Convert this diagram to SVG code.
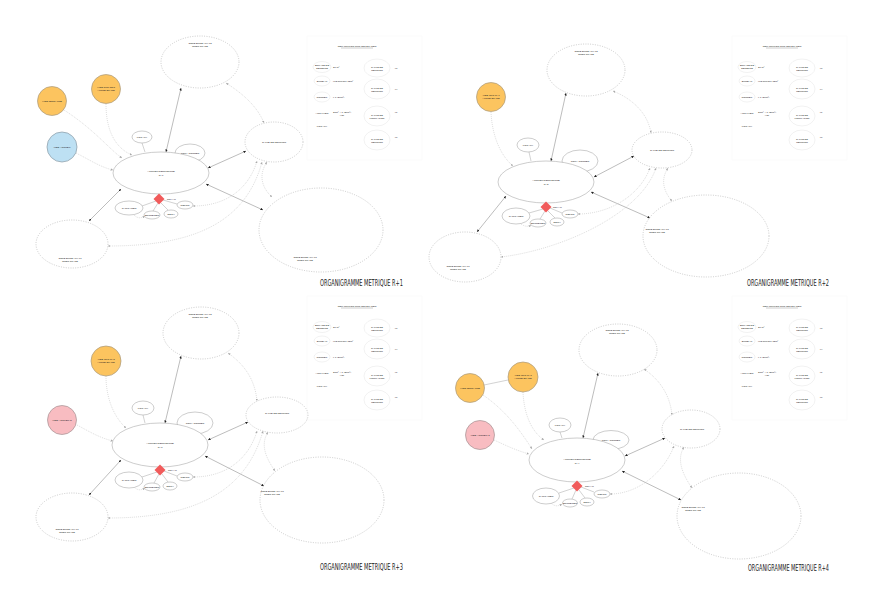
<svg xmlns="http://www.w3.org/2000/svg" xmlns:xlink="http://www.w3.org/1999/xlink" width="871" height="616" viewBox="0 0 871 616">
<style>
.t{font-family:"Liberation Sans",Arial,sans-serif;fill:#222;text-anchor:middle;font-size:2.5px}
.ts{font-family:"Liberation Sans",Arial,sans-serif;fill:#222;text-anchor:start;font-size:2.5px}
.tt{font-family:"DejaVu Sans Condensed","Liberation Sans",sans-serif;fill:#222;font-size:8px}
.n{fill:#fff;stroke:#9a9a9a;stroke-width:0.5}
.nf{fill:none;stroke:#e4e4e4;stroke-width:0.5}
.d{fill:none;stroke:#c4c4c4;stroke-width:0.9;stroke-dasharray:1 1.4}
.or{fill:#fcc45f;stroke:#a89a80;stroke-width:0.7}
.bl{fill:#bde0f3;stroke:#8a9aa4;stroke-width:0.7}
.pk{fill:#f8bcc1;stroke:#a49294;stroke-width:0.7}
.dm{fill:#f15b5b}
.a{fill:none;stroke:#7a7a7a;stroke-width:0.5;marker-start:url(#ah);marker-end:url(#ah)}
.l{fill:none;stroke:#9a9a9a;stroke-width:0.45}
.c{fill:none;stroke:#c6c6c6;stroke-width:0.6;stroke-dasharray:1 1;marker-end:url(#al)}
.c2{fill:none;stroke:#c6c6c6;stroke-width:0.6;stroke-dasharray:1 1;marker-start:url(#al);marker-end:url(#al)}
</style>
<defs>
<marker id="ah" viewBox="0 0 4 4" refX="4" refY="2" markerWidth="2.6" markerHeight="2.6" markerUnits="userSpaceOnUse" orient="auto-start-reverse"><path d="M0,0 L4,2 L0,4 z" fill="#222"/></marker>
<marker id="al" viewBox="0 0 4 4" refX="4" refY="2" markerWidth="2.4" markerHeight="2.4" markerUnits="userSpaceOnUse" orient="auto-start-reverse"><path d="M0,0 L4,2 L0,4 z" fill="#aaa"/></marker>
<g id="tab">
<rect x="307" y="36" width="115" height="124" fill="none" stroke="#f7f7f7" stroke-width="0.5"/>
<text x="357" y="47" class="t">REPARTITION SUR LES ETAGES</text>
<line x1="341" y1="48" x2="373" y2="48" stroke="#555" stroke-width="0.3"/>
<ellipse cx="322" cy="67" rx="9" ry="5.5" class="nf"/>
<text x="322" y="66" class="t">ESPACE DE</text><text x="322" y="69" class="t">DETENTE</text>
<text x="333" y="67.5" class="ts">20 m²</text>
<ellipse cx="322" cy="81" rx="8" ry="5" class="nf"/>
<text x="322" y="82" class="t">BUREAU</text>
<text x="333" y="82" class="ts">x12 bureaux 12m²</text>
<ellipse cx="322" cy="97" rx="8" ry="5" class="nf"/>
<text x="322" y="98" class="t">CONSEIL</text>
<text x="333" y="98" class="ts">x 1 (20m²)</text>
<text x="322" y="114" class="t">ARCHIVES</text>
<text x="333" y="113" class="ts">20m² + 1 (20m²)</text><text x="342" y="116" class="t">(x2)</text>
<text x="322" y="127" class="t">LOCAUX</text>
<ellipse cx="377" cy="68" rx="13" ry="9" class="nf"/>
<text x="377" y="67.5" class="t">SALLE DE</text><text x="377" y="70.5" class="t">REUNION</text>
<ellipse cx="377" cy="89" rx="13" ry="10" class="nf"/>
<text x="377" y="88.5" class="t">SALLE DE</text><text x="377" y="91.5" class="t">REUNION</text>
<ellipse cx="377" cy="116" rx="13" ry="10" class="nf"/>
<text x="377" y="115.5" class="t">SALLE DE</text><text x="377" y="118.5" class="t">FORMATION</text>
<ellipse cx="377" cy="140" rx="13" ry="10" class="nf"/>
<text x="377" y="139.5" class="t">SALLE DE</text><text x="377" y="142.5" class="t">REUNION</text>
<text x="396" y="69" class="t">x7</text>
<text x="396" y="90" class="t">x4</text>
<text x="396" y="113" class="t">x1</text>
<text x="396" y="138" class="t">x6</text>
</g>
</defs>
<rect width="871" height="616" fill="#fff"/>

<!-- tables -->
<use xlink:href="#tab" href="#tab"/>
<use xlink:href="#tab" href="#tab" transform="translate(425,0)"/>
<use xlink:href="#tab" href="#tab" transform="translate(0,260)"/>
<use xlink:href="#tab" href="#tab" transform="translate(425,260)"/>

<!-- titles -->
<text x="320" y="286" class="tt" textLength="83" lengthAdjust="spacingAndGlyphs">ORGANIGRAMME METRIQUE R+1</text>
<text x="747" y="286" class="tt" textLength="82" lengthAdjust="spacingAndGlyphs">ORGANIGRAMME METRIQUE R+2</text>
<text x="320" y="570" class="tt" textLength="83" lengthAdjust="spacingAndGlyphs">ORGANIGRAMME METRIQUE R+3</text>
<text x="748" y="571" class="tt" textLength="81" lengthAdjust="spacingAndGlyphs">ORGANIGRAMME METRIQUE R+4</text>

<!-- connectors -->
<g id="connectors">
<!-- R+1 -->
<path class="a" d="M166,152 L181,88"/>
<path class="a" d="M208,168 L246,151"/>
<path class="a" d="M206,184 L263,210"/>
<path class="a" d="M121,189 L89,221"/>
<path class="l" d="M142,143 L145,152"/>
<path class="l" d="M156,201 L142,206"/>
<path class="l" d="M158,203 L153,211"/>
<path class="l" d="M161,203 L168,210"/>
<path class="l" d="M163,200 L177,204"/>
<path class="c" d="M64,110 C95,130 110,150 122,158"/>
<path class="c" d="M106,104 C106,130 115,148 132,155"/>
<path class="c" d="M76,153 C90,160 100,167 113,170"/>
<path class="c2" d="M226,83 C245,95 258,108 264,123"/>
<path class="c2" d="M193,206 C230,206 250,185 257,161"/>
<path class="c2" d="M108,246 C190,246 245,225 262,162"/>
<path class="c2" d="M267,162 C258,175 262,188 272,197"/>
<path class="c" d="M134,215 Q139,220 145,216"/>
<!-- R+2 -->
<path class="a" d="M551,161 L566,93"/>
<path class="a" d="M594,177 L634,156"/>
<path class="a" d="M591,192 L650,218"/>
<path class="a" d="M506,196 L477,232"/>
<path class="l" d="M529,152 L531,161"/>
<path class="l" d="M543,209 L529,213"/>
<path class="l" d="M545,211 L540,219"/>
<path class="l" d="M548,211 L555,218"/>
<path class="l" d="M550,208 L562,213"/>
<path class="c" d="M491,112 C492,135 500,155 513,166"/>
<path class="c2" d="M613,91 C635,100 648,115 651,133"/>
<path class="c2" d="M578,214 C610,214 640,195 650,168"/>
<path class="c2" d="M656,168 C640,215 560,250 501,257"/>
<path class="c2" d="M668,168 C660,180 664,192 672,201"/>
<path class="c" d="M521,224 Q527,228 531,225"/>
<!-- R+3 -->
<path class="a" d="M165,423 L181,356"/>
<path class="a" d="M208,440 L248,422"/>
<path class="a" d="M205,456 L264,486"/>
<path class="a" d="M121,460 L89,495"/>
<path class="l" d="M143,415 L145,423"/>
<path class="l" d="M157,472 L142,477"/>
<path class="l" d="M159,474 L154,483"/>
<path class="l" d="M162,474 L168,482"/>
<path class="l" d="M164,471 L177,476"/>
<path class="c" d="M106,376 C106,400 115,418 126,428"/>
<path class="c" d="M77,425 C90,432 100,438 113,441"/>
<path class="c2" d="M228,353 C245,365 255,380 257,401"/>
<path class="c2" d="M193,477 C230,477 250,455 257,431"/>
<path class="c2" d="M108,518 C190,518 245,495 263,431"/>
<path class="c2" d="M268,432 C260,445 266,458 275,471"/>
<path class="c" d="M134,487 Q139,492 145,488"/>
<!-- R+4 -->
<path class="a" d="M583,438 L598,373"/>
<path class="a" d="M625,456 L665,438"/>
<path class="a" d="M622,471 L681,500"/>
<path class="l" d="M560,432 L562,438"/>
<path class="l" d="M484,385 L508,380"/>
<path class="l" d="M574,488 L559,493"/>
<path class="l" d="M576,490 L572,499"/>
<path class="l" d="M579,490 L585,498"/>
<path class="l" d="M581,487 L594,492"/>
<path class="c" d="M483,395 C505,410 520,430 532,449"/>
<path class="c" d="M523,392 C524,415 532,432 544,440"/>
<path class="c" d="M494,440 C505,445 515,450 529,454"/>
<path class="c2" d="M644,369 C660,380 670,395 672,415"/>
<path class="c2" d="M610,494 C640,494 665,470 674,446"/>
<path class="c2" d="M684,447 C676,460 683,475 692,488"/>
<path class="c" d="M551,503 Q556,508 562,504"/>
</g>

<!-- ===== R+1 nodes ===== -->
<g id="r1-vide-terrasse"><circle cx="52" cy="101" r="14.5" class="or"/><text x="52" y="102" class="t">VIDE TERRASSE</text></g>
<g id="r1-vide-rdc"><circle cx="106" cy="89" r="14.5" class="or"/><text x="106" y="88" class="t">VIDE SUR RDC</text><text x="106" y="91" class="t">AUTRE ETAGE</text></g>
<g id="r1-vide-accueil"><circle cx="62" cy="147" r="15" class="bl"/><text x="62" y="148" class="t">VIDE ACCUEIL</text></g>
<g id="r1-zone-02"><ellipse cx="200" cy="62" rx="39" ry="26" class="d"/><text x="200" y="44" class="t">ZONE BUREAUX 02</text><text x="200" y="47" class="t">OPEN SPACE</text></g>
<g id="r1-locaux"><ellipse cx="142" cy="137" rx="10" ry="6" class="n"/><text x="142" y="138" class="t">LOCAUX</text></g>
<g id="r1-copy"><ellipse cx="190" cy="153" rx="15" ry="9" class="n"/><text x="190" y="154" class="t">COPY CORNER</text></g>
<g id="r1-accueil"><ellipse cx="161" cy="173" rx="48" ry="21" class="n"/><text x="161" y="172" class="t">ACCUEIL/RENCONTRE</text><text x="161" y="175.5" class="t">R+1</text></g>
<g id="r1-noyau"><polygon points="159,193.5 164.5,199 159,204.5 153.5,199" class="dm"/><text x="167" y="200" class="ts">NOYAU</text></g>
<g id="r1-sanitaires"><ellipse cx="129" cy="208" rx="14" ry="7" class="n"/><text x="129" y="209" class="t">SANITAIRES</text></g>
<g id="r1-entretien"><ellipse cx="152" cy="215" rx="8" ry="4" class="n"/><text x="152" y="216" class="t">ENTRETIEN</text></g>
<g id="r1-dech"><ellipse cx="171" cy="214" rx="7" ry="4" class="n"/><text x="171" y="215" class="t">DECH</text></g>
<g id="r1-repos"><ellipse cx="185" cy="205" rx="8" ry="4" class="n"/><text x="185" y="206" class="t">REPOS</text></g>
<g id="r1-salle"><ellipse cx="274" cy="142" rx="29" ry="20" class="d"/><text x="274" y="143" class="t">SALLE DE REUNION</text></g>
<g id="r1-zone-03"><ellipse cx="321" cy="230" rx="62" ry="42" class="d"/><text x="305" y="258" class="t">ZONE BUREAUX 03</text><text x="305" y="261" class="t">OPEN SPACE</text></g>
<g id="r1-zone-01"><ellipse cx="72" cy="244" rx="36" ry="24" class="d"/><text x="70" y="259" class="t">ZONE BUREAUX 01</text><text x="70" y="262" class="t">OPEN SPACE</text></g>

<!-- ===== R+2 nodes ===== -->
<g id="r2-vide-r1"><circle cx="491" cy="97" r="14.5" class="or"/><text x="491" y="96" class="t">VIDE SUR R+1</text><text x="491" y="99" class="t">AUTRE ETAGE</text></g>
<g id="r2-zone-02"><ellipse cx="586" cy="70" rx="39" ry="26" class="d"/><text x="586" y="52" class="t">ZONE BUREAUX 02</text><text x="586" y="55" class="t">OPEN SPACE</text></g>
<g id="r2-locaux"><ellipse cx="528" cy="145" rx="11" ry="7" class="n"/><text x="528" y="146" class="t">LOCAUX</text></g>
<g id="r2-copy"><ellipse cx="580" cy="161" rx="18" ry="11" class="n"/><text x="580" y="162" class="t">COPY CORNER</text></g>
<g id="r2-accueil"><ellipse cx="546" cy="182" rx="48" ry="21" class="n"/><text x="546" y="181" class="t">ACCUEIL/RENCONTRE</text><text x="546" y="184.5" class="t">R+2</text></g>
<g id="r2-noyau"><polygon points="546,201.5 551.5,207 546,212.5 540.5,207" class="dm"/><text x="553" y="207.5" class="ts">NOYAU</text></g>
<g id="r2-sanitaires"><ellipse cx="516" cy="216" rx="14" ry="8" class="n"/><text x="516" y="217" class="t">SANITAIRES</text></g>
<g id="r2-entretien"><ellipse cx="538" cy="223" rx="8" ry="4" class="n"/><text x="538" y="224" class="t">ENTRETIEN</text></g>
<g id="r2-dech"><ellipse cx="557" cy="222" rx="7" ry="4" class="n"/><text x="557" y="223" class="t">DECH</text></g>
<g id="r2-repos"><ellipse cx="570" cy="214" rx="8" ry="4" class="n"/><text x="570" y="215" class="t">REPOS</text></g>
<g id="r2-salle"><ellipse cx="662" cy="150" rx="30" ry="18" class="d"/><text x="662" y="151" class="t">SALLE DE REUNION</text></g>
<g id="r2-zone-03"><ellipse cx="706" cy="236" rx="63" ry="41" class="d"/><text x="657" y="230" class="t">ZONE BUREAUX 03</text><text x="657" y="233" class="t">OPEN SPACE</text></g>
<g id="r2-zone-01"><ellipse cx="465" cy="257" rx="36" ry="25" class="d"/><text x="458" y="267" class="t">ZONE BUREAUX 01</text><text x="458" y="270" class="t">OPEN SPACE</text></g>

<!-- ===== R+3 nodes ===== -->
<g id="r3-vide-r2"><circle cx="106" cy="361" r="15" class="or"/><text x="106" y="360" class="t">VIDE SUR R+2</text><text x="106" y="363" class="t">AUTRE ETAGE</text></g>
<g id="r3-vide-accueil"><circle cx="62" cy="420" r="14.5" class="pk"/><text x="62" y="421" class="t">VIDE ACCUEIL R</text></g>
<g id="r3-zone-02"><ellipse cx="201" cy="333" rx="38" ry="26" class="d"/><text x="200" y="315" class="t">ZONE BUREAUX 02</text><text x="200" y="318" class="t">OPEN SPACE</text></g>
<g id="r3-locaux"><ellipse cx="143" cy="408" rx="11" ry="7" class="n"/><text x="143" y="409" class="t">LOCAUX</text></g>
<g id="r3-copy"><ellipse cx="195" cy="423" rx="18" ry="11" class="n"/><text x="195" y="424" class="t">COPY CORNER</text></g>
<g id="r3-accueil"><ellipse cx="160" cy="445" rx="48" ry="22" class="n"/><text x="160" y="444" class="t">ACCUEIL/RENCONTRE</text><text x="160" y="447.5" class="t">R+3</text></g>
<g id="r3-noyau"><polygon points="160,464.5 165.5,470 160,475.5 154.5,470" class="dm"/><text x="168" y="471" class="ts">NOYAU</text></g>
<g id="r3-sanitaires"><ellipse cx="129" cy="480" rx="14" ry="8" class="n"/><text x="129" y="481" class="t">SANITAIRES</text></g>
<g id="r3-entretien"><ellipse cx="152" cy="487" rx="8" ry="4" class="n"/><text x="152" y="488" class="t">ENTRETIEN</text></g>
<g id="r3-dech"><ellipse cx="170" cy="486" rx="7" ry="4" class="n"/><text x="170" y="487" class="t">DECH</text></g>
<g id="r3-repos"><ellipse cx="185" cy="477" rx="8" ry="4" class="n"/><text x="185" y="478" class="t">REPOS</text></g>
<g id="r3-salle"><ellipse cx="277" cy="415" rx="31" ry="18" class="d"/><text x="277" y="414" class="t">SALLE DE REUNION</text></g>
<g id="r3-zone-03"><ellipse cx="322" cy="500" rx="62" ry="43" class="d"/><text x="272" y="492" class="t">ZONE BUREAUX 03</text><text x="272" y="495" class="t">OPEN SPACE</text></g>
<g id="r3-zone-01"><ellipse cx="72" cy="517" rx="36" ry="24" class="d"/><text x="67" y="530" class="t">ZONE BUREAUX 01</text><text x="67" y="533" class="t">OPEN SPACE</text></g>

<!-- ===== R+4 nodes ===== -->
<g id="r4-vide-terrasse"><circle cx="470" cy="388" r="14.5" class="or"/><text x="470" y="389" class="t">VIDE TERRASSE</text></g>
<g id="r4-vide-r3"><circle cx="523" cy="377" r="15" class="or"/><text x="523" y="376" class="t">VIDE SUR R+3</text><text x="523" y="379" class="t">AUTRE ETAGE</text></g>
<g id="r4-vide-accueil"><circle cx="480" cy="435" r="14.5" class="pk"/><text x="480" y="436" class="t">VIDE ACCUEIL 2</text></g>
<g id="r4-zone-02"><ellipse cx="618" cy="350" rx="39" ry="26" class="d"/><text x="617" y="331" class="t">ZONE BUREAUX 02</text><text x="617" y="334" class="t">OPEN SPACE</text></g>
<g id="r4-locaux"><ellipse cx="560" cy="425" rx="11" ry="7" class="n"/><text x="560" y="426" class="t">LOCAUX</text></g>
<g id="r4-copy"><ellipse cx="611" cy="440" rx="18" ry="9.5" class="n"/><text x="611" y="441" class="t">COPY CORNER</text></g>
<g id="r4-accueil"><ellipse cx="577" cy="460" rx="48" ry="22" class="n"/><text x="577" y="460" class="t">ACCUEIL/RENCONTRE</text><text x="577" y="463.5" class="t">R+4</text></g>
<g id="r4-noyau"><polygon points="577,480.5 582.5,486 577,491.5 571.5,486" class="dm"/><text x="585" y="486.5" class="ts">NOYAU</text></g>
<g id="r4-sanitaires"><ellipse cx="546" cy="496" rx="13.5" ry="8" class="n"/><text x="546" y="497" class="t">SANITAIRES</text></g>
<g id="r4-entretien"><ellipse cx="570" cy="503" rx="7.5" ry="4" class="n"/><text x="570" y="504" class="t">ENTRETIEN</text></g>
<g id="r4-dech"><ellipse cx="587" cy="502" rx="7" ry="4" class="n"/><text x="587" y="503" class="t">DECH</text></g>
<g id="r4-repos"><ellipse cx="602" cy="494" rx="8" ry="4" class="n"/><text x="602" y="495" class="t">REPOS</text></g>
<g id="r4-salle"><ellipse cx="691" cy="429" rx="29" ry="19" class="d"/><text x="692" y="430" class="t">SALLE DE REUNION</text></g>
<g id="r4-zone-03"><ellipse cx="739" cy="516" rx="62" ry="43" class="d"/><text x="693" y="508" class="t">ZONE BUREAUX 03</text><text x="693" y="511" class="t">OPEN SPACE</text></g>
</svg>
